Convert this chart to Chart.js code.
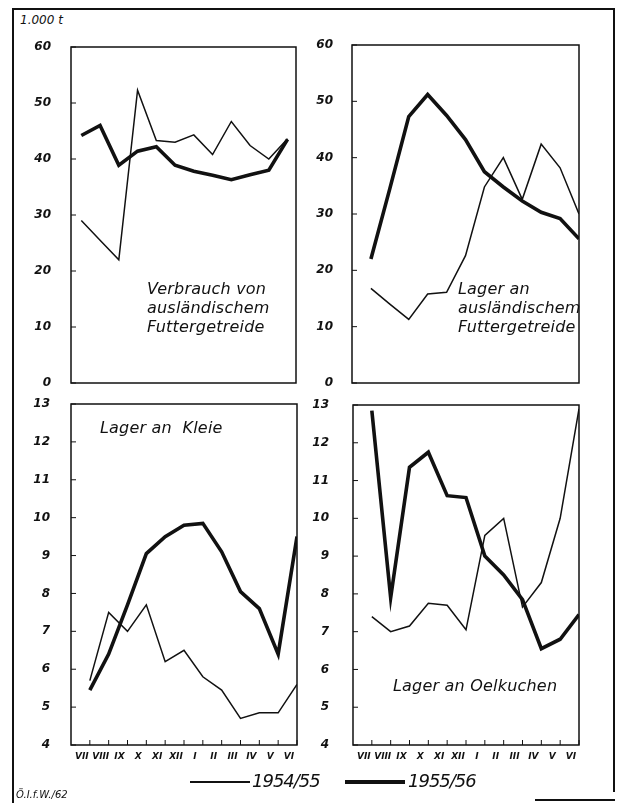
<!DOCTYPE html>
<html>
<head>
<meta charset="utf-8">
<script src="https://cdn.jsdelivr.net/npm/chart.js@4"></script>
<style>
  body { margin: 0; background: #fff; }
  #page { position: relative; width: 619px; height: 803px; background: #fff; overflow: hidden;
          font-family: "DejaVu Sans", sans-serif; font-style: italic; color: #111; }
  canvas { position: absolute; }
  .txt { position: absolute; white-space: nowrap; }
  .note { font-size: 16px; line-height: 19px; letter-spacing: 0.2px; }
  .leg { font-size: 18px; letter-spacing: -1px; }
  .ln { position: absolute; background: #111; }
</style>
</head>
<body>
<div id="page">
  <!-- frame -->
  <div class="ln" style="left:12px;top:8px;width:2px;height:795px"></div>
  <div class="ln" style="left:12px;top:8px;width:603px;height:2px"></div>
  <div class="ln" style="left:613px;top:8px;width:2px;height:784px"></div>
  <div class="ln" style="left:535px;top:799px;width:80px;height:2px"></div>

  <div class="txt" style="left:20px;top:13px;font-size:12px">1.000 t</div>

  <canvas id="c1" style="left:0;top:30px" width="300" height="360"></canvas>
  <canvas id="c2" style="left:300px;top:30px" width="300" height="360"></canvas>
  <canvas id="c3" style="left:0;top:390px" width="300" height="390"></canvas>
  <canvas id="c4" style="left:300px;top:390px" width="300" height="390"></canvas>

  <div class="txt note" style="left:147px;top:279px">Verbrauch von<br>ausländischem<br>Futtergetreide</div>
  <div class="txt note" style="left:458px;top:279px">Lager an<br>ausländischem<br>Futtergetreide</div>
  <div class="txt note" style="left:100px;top:418px">Lager an&nbsp; Kleie</div>
  <div class="txt note" style="left:393px;top:676px">Lager an Oelkuchen</div>

  <!-- legend -->
  <div class="ln" style="left:190px;top:781px;width:60px;height:1.5px"></div>
  <div class="txt leg" style="left:252px;top:770px">1954/55</div>
  <div class="ln" style="left:345px;top:780px;width:60px;height:4px"></div>
  <div class="txt leg" style="left:408px;top:770px">1955/56</div>
  <div class="txt" style="left:16px;top:789px;font-size:10px">Ö.I.f.W./62</div>
</div>

<script>
// Monate (Wirtschaftsjahr Juli bis Juni)
const months = ["VII", "VIII", "IX", "X", "XI", "XII", "I", "II", "III", "IV", "V", "VI"]

// Verbrauch von ausländischem Futtergetreide (1.000 t)
const verbrauch5455 = [29, 25.5, 22, 52.3, 43.3, 43, 44.3, 40.8, 46.7, 42.4, 40, 43.6]
const verbrauch5556 = [44.2, 46, 38.9, 41.4, 42.2, 38.9, 37.8, 37.1, 36.3, 37.2, 38, 43.5]

// Lager an ausländischem Futtergetreide
const lagerFutter5455 = [16.8, 14, 11.3, 15.8, 16.1, 22.6, 34.8, 40, 32.6, 42.4, 38.2, 30]
const lagerFutter5556 = [22, 34.5, 47.3, 51.2, 47.5, 43.2, 37.5, 34.8, 32.3, 30.3, 29.2, 25.6]

// Lager an Kleie
const kleie5455 = [5.7, 7.5, 7.0, 7.7, 6.2, 6.5, 5.8, 5.45, 4.7, 4.85, 4.85, 5.6]
const kleie5556 = [5.45, 6.4, 7.7, 9.05, 9.5, 9.8, 9.85, 9.1, 8.05, 7.6, 6.4, 9.5]

// Lager an Oelkuchen
const oel5455 = [7.4, 7.0, 7.15, 7.75, 7.7, 7.05, 9.55, 10.0, 7.65, 8.3, 10.0, 12.9]
const oel5556 = [12.85, 7.9, 11.35, 11.75, 10.6, 10.55, 9.0, 8.5, 7.85, 6.55, 6.8, 7.45]

const toPoints = arr => arr.map((v, i) => ({ x: i, y: v }))

// Rahmen + kleine Teilstriche nach innen
const boxPlugin = {
    id: "box",
    afterDraw(chart) {
        const { ctx, chartArea: a, scales } = chart
        ctx.save()
        ctx.strokeStyle = "#111"
        ctx.lineWidth = 1.5
        ctx.strokeRect(a.left, a.top, a.right - a.left, a.bottom - a.top)
        ctx.lineWidth = 1
        ctx.beginPath()
        scales.y.ticks.forEach(t => {
            const y = scales.y.getPixelForValue(t.value)
            ctx.moveTo(a.left, y)
            ctx.lineTo(a.left + 5, y)
        })
        if (scales.x.options.display) {
            months.forEach((m, i) => {
                const x = scales.x.getPixelForValue(i)
                ctx.moveTo(x, a.bottom)
                ctx.lineTo(x, a.bottom - 5)
            })
        }
        ctx.stroke()
        ctx.restore()
    }
}

const makeChart = (id, thin, thick, opt) => {
    return new Chart(document.getElementById(id), {
        type: "line",
        data: {
            datasets: [
                { label: "1954/55", data: toPoints(thin), borderColor: "#111", borderWidth: 1.5, pointRadius: 0, tension: 0 },
                { label: "1955/56", data: toPoints(thick), borderColor: "#111", borderWidth: 3.6, pointRadius: 0, tension: 0 },
            ],
        },
        options: {
            responsive: false,
            animation: false,
            layout: { padding: opt.padding },
            plugins: { legend: { display: false }, tooltip: { enabled: false } },
            scales: {
                x: {
                    type: "linear",
                    display: opt.showX,
                    min: opt.xmin,
                    max: opt.xmax,
                    grid: { display: false, drawTicks: false },
                    border: { display: false },
                    afterBuildTicks: s => { s.ticks = months.map((m, i) => ({ value: i })) },
                    afterFit: s => {
                        s.height = opt.showX ? 35 : 0
                        s.paddingLeft = 0
                        s.paddingRight = 0
                    },
                    ticks: {
                        autoSkip: false,
                        maxRotation: 0,
                        padding: 6,
                        labelOffset: -8,
                        color: "#111",
                        font: { family: "DejaVu Sans", size: 9, style: "italic", weight: "bold" },
                        callback: v => months[v],
                    },
                },
                y: {
                    min: opt.ymin,
                    max: opt.ymax,
                    grid: { display: false, drawTicks: false },
                    border: { display: false },
                    afterFit: s => {
                        s.width = opt.yWidth
                        s.paddingTop = 0
                        s.paddingBottom = 0
                    },
                    ticks: {
                        stepSize: opt.step,
                        padding: opt.yPad,
                        color: "#111",
                        font: { family: "DejaVu Sans", size: 12, style: "italic", weight: "bold" },
                    },
                },
            },
        },
        plugins: [boxPlugin],
    })
}

makeChart("c1", verbrauch5455, verbrauch5556,
    { padding: { top: 17, right: 4, bottom: 7 }, showX: false, xmin: -0.55, xmax: 11.45, ymin: 0, ymax: 60, step: 10, yWidth: 71, yPad: 20 })
makeChart("c2", lagerFutter5455, lagerFutter5556,
    { padding: { top: 15, right: 21, bottom: 7 }, showX: false, xmin: -1, xmax: 11, ymin: 0, ymax: 60, step: 10, yWidth: 52, yPad: 19 })
makeChart("c3", kleie5455, kleie5556,
    { padding: { top: 14, right: 3, bottom: 0 }, showX: true, xmin: -1, xmax: 11, ymin: 4, ymax: 13, step: 1, yWidth: 71, yPad: 21 })
makeChart("c4", oel5455, oel5556,
    { padding: { top: 15, right: 21, bottom: 0 }, showX: true, xmin: -1, xmax: 11, ymin: 4, ymax: 13, step: 1, yWidth: 53, yPad: 24 })
</script>
</body>
</html>
